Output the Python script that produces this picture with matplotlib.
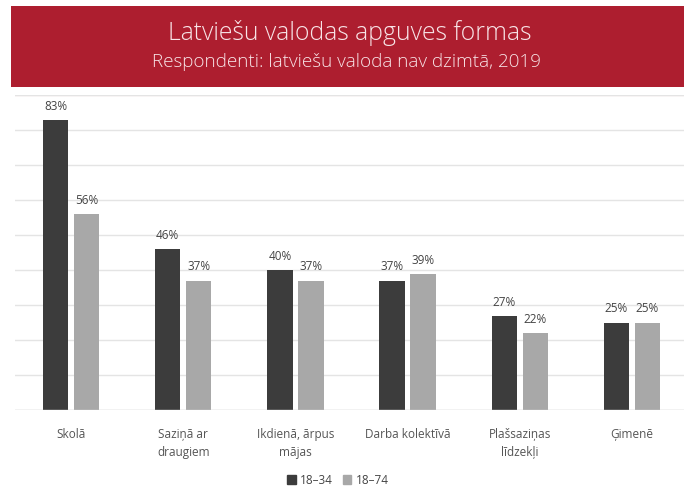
import matplotlib
matplotlib.use("Agg")
import matplotlib.pyplot as plt
from matplotlib.patches import Rectangle, Patch
import numpy as np

categories = ["Skolā", "Saziņā ar\ndraugiem", "Ikdienā, ārpus\nmājas", "Darba kolektīvā",
              "Plašsaziņas\nlīdzekļi", "Ģimenē"]
series_names = ["18–34", "18–74"]
values_1834 = [83, 46, 40, 37, 27, 25]
values_1874 = [56, 37, 37, 39, 22, 25]
title = "Latviešu valodas apguves formas"
subtitle = "Respondenti: latviešu valoda nav dzimtā, 2019"

plt.rcParams['font.family'] = ['Open Sans', 'DejaVu Sans']

W, H = 684, 491
fig = plt.figure(figsize=(W/100, H/100), dpi=100)
fig.patch.set_facecolor('white')

# banner
fig.patches.append(Rectangle((11/W, 1 - 87/H), 1 - 11/W, 81/H, transform=fig.transFigure,
                             facecolor='#AD1E2F', edgecolor='none', zorder=0))
fig.text(350/W, 1 - 33/H, title, ha='center', va='center', color='#f8e4e7',
         fontsize=17.8, fontweight='light')
fig.text(346/W, 1 - 62/H, subtitle, ha='center', va='center', color='#f8e4e7',
         fontsize=13.6, fontweight='light')

ax = fig.add_axes([15/W, (H - 410)/H, (W - 15)/W, (410 - 95)/H])
x = np.arange(len(categories))
bw = 0.225
off = 0.138
c1, c2 = '#3c3c3c', '#a8a8a8'
b1 = ax.bar(x - off, values_1834, bw, color=c1, zorder=3)
b2 = ax.bar(x + off, values_1874, bw, color=c2, zorder=3)
for bars, vals in ((b1, values_1834), (b2, values_1874)):
    for rect, v in zip(bars, vals):
        ax.text(rect.get_x() + rect.get_width()/2, v + 2.0, f"{v}%", ha='center', va='bottom',
                fontsize=8.5, color='#444444')

ax.set_xlim(-0.5, 5.5 - 4/112)
ax.set_ylim(0, 90)
ax.set_yticks(np.arange(0, 91, 10))
ax.yaxis.grid(True, color='#e4e4e4', lw=1, zorder=0)
ax.tick_params(axis='y', left=False, labelleft=False)
ax.tick_params(axis='x', length=0, pad=13, labelsize=8.5, labelcolor='#555555')
ax.set_xticks(x)
ax.set_xticklabels(categories, linespacing=1.45)
for s in ax.spines.values():
    s.set_visible(False)
ax.axhline(90, color='#f0dce2', lw=1, zorder=1)
ax.axhline(0, color='#d8d8d8', lw=1, zorder=4)

handles = [Patch(color=c1, label=series_names[0]), Patch(color=c2, label=series_names[1])]
fig.legend(handles=handles, loc='center', bbox_to_anchor=(338/W, 1 - 480/H), ncol=2,
           frameon=False, fontsize=8.5, handlelength=0.7, handleheight=0.7,
           handletextpad=0.4, columnspacing=0.8, labelcolor='#444444')

fig.savefig("out.png", dpi=100, facecolor='white')
